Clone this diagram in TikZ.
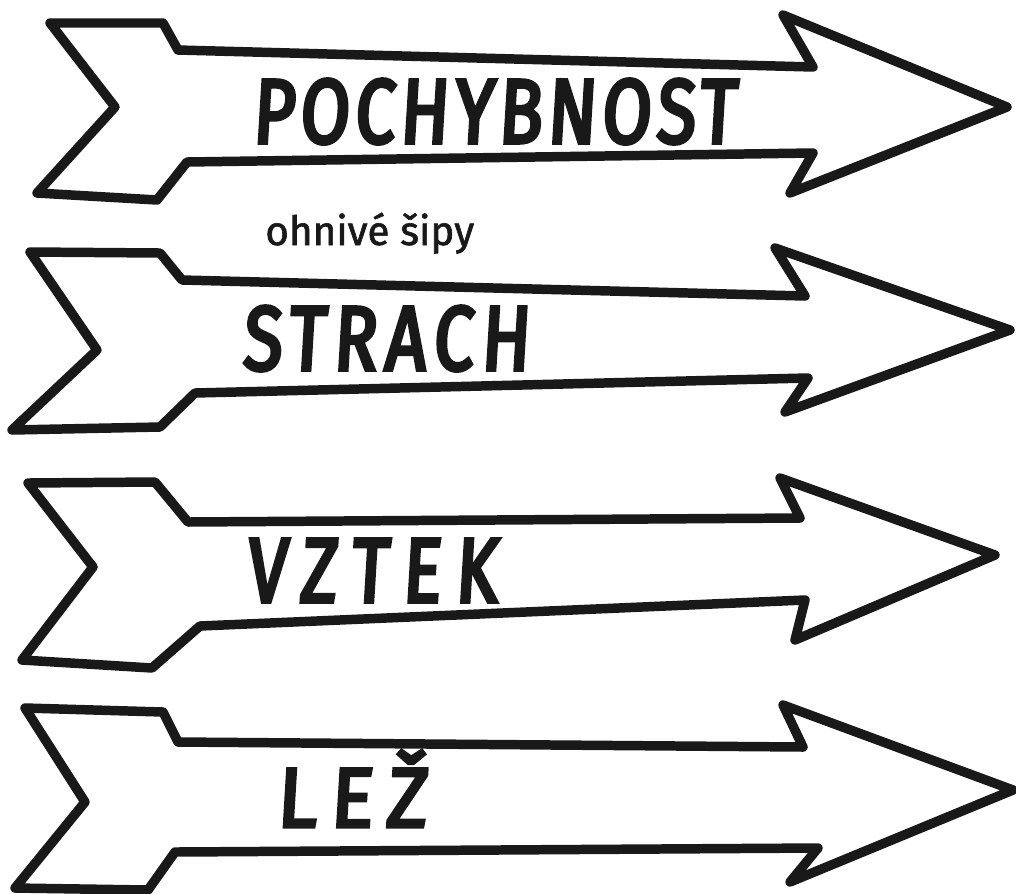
\documentclass[tikz,border=0pt]{standalone}
\usepackage{fontspec}
\usepackage{tikz}
\usetikzlibrary{positioning}
\newfontfamily\handfont[FakeStretch=0.78,FakeSlant=0.06,FakeBold=4,LetterSpace=6]{Fira Sans}
\newfontfamily\notefont[FakeBold=1.5]{Fira Sans}
\tikzset{
  darrow/.style={draw=black!90, fill=white, line width=5.4pt, line join=round},
  dword/.style={black!90, font=\handfont\fontsize{52}{52}\selectfont,
                anchor=base west, inner sep=0pt},
  dwide/.style={dword, font=\handfont\addfontfeatures{LetterSpace=#1}\fontsize{52}{52}\selectfont},
  dnote/.style={black!90, font=\notefont\fontsize{23}{23}\selectfont,
                anchor=base west, inner sep=0pt},
}
\begin{document}
\begin{tikzpicture}[x=0.02cm,y=-0.02cm]
  \useasboundingbox (0,0) rectangle (1016,893);

  % --- sip 1: pochybnost ---
  \draw[darrow] (50,23) -- (163,23) -- (178,50) -- (813,67) -- (783,15)
    -- (1007,107) -- (790,193) -- (813,153) -- (187,162) -- (157,200)
    -- (37,193) -- (115,107) -- cycle;
  \node[dword] (pochybnost) at (252,143) {POCHYBNOST};

  % popisek mezi sipy
  \node[dnote] (ohnive) at (265,245) {ohnivé šipy};

  % --- sip 2: strach ---
  \draw[darrow] (30,252) -- (160,253) -- (182,280) -- (805,296) -- (775,248)
    -- (1010,330) -- (785,412) -- (808,378) -- (195,393) -- (160,427)
    -- (12,430) -- (97,350) -- cycle;
  \node[dwide=9] (strach) at (242,370) {STRACH};

  % --- sip 3: vztek ---
  \draw[darrow] (28,483) -- (155,482) -- (188,522) -- (800,518) -- (780,478)
    -- (995,555) -- (795,640) -- (805,600) -- (200,626) -- (152,668)
    -- (22,660) -- (93,567) -- cycle;
  \node[dwide=16] (vztek) at (246,602) {VZTEK};

  % --- sip 4: lez ---
  \draw[darrow] (25,708) -- (163,712) -- (178,742) -- (803,747) -- (783,705)
    -- (1013,790) -- (790,882) -- (818,848) -- (175,852) -- (148,890)
    -- (15,888) -- (85,802) -- cycle;
  \node[dword, font=\handfont\addfontfeatures{FakeStretch=0.95,LetterSpace=16}\fontsize{48}{48}\selectfont]
    (lez) at (276,827) {LEŽ};

\end{tikzpicture}
\end{document}
